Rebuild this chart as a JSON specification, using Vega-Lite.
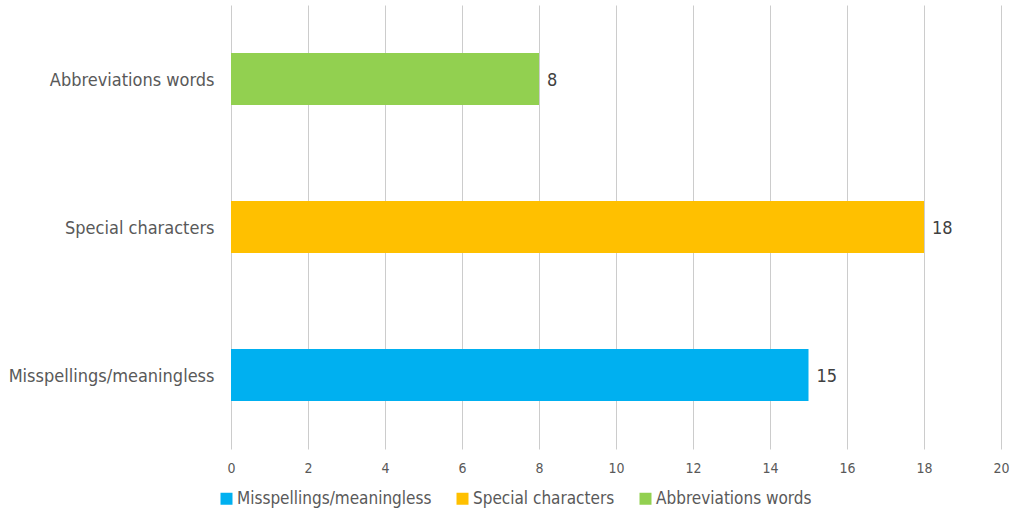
{
  "$schema": "https://vega.github.io/schema/vega-lite/v6.json",
  "autosize": {"type": "none"},
  "width": 770,
  "height": 444,
  "padding": {"left": 231, "top": 5, "right": 10, "bottom": 63},
  "background": "white",
  "config": {
    "view": {"stroke": null},
    "font": "DejaVu Sans Condensed"
  },
  "data": {
    "values": [
      {"category": "Misspellings/meaningless", "count": 15},
      {"category": "Special characters", "count": 18},
      {"category": "Abbreviations words", "count": 8}
    ]
  },
  "encoding": {
    "y": {
      "field": "category",
      "type": "nominal",
      "sort": ["Abbreviations words", "Special characters", "Misspellings/meaningless"],
      "scale": {"paddingInner": 0.65, "paddingOuter": 0.325},
      "axis": {
        "title": null,
        "domain": false,
        "ticks": false,
        "labelFontSize": 18,
        "labelColor": "#595959",
        "labelPadding": 17,
        "labelOffset": 2,
        "labelLimit": 300
      }
    },
    "x": {
      "field": "count",
      "type": "quantitative",
      "scale": {"domain": [0, 20]},
      "axis": {
        "title": null,
        "values": [0, 2, 4, 6, 8, 10, 12, 14, 16, 18, 20],
        "domain": false,
        "ticks": false,
        "grid": true,
        "gridColor": "#cccccc",
        "gridWidth": 1,
        "labelFlush": false,
        "labelFontSize": 14,
        "labelColor": "#595959",
        "labelPadding": 12
      }
    }
  },
  "layer": [
    {
      "mark": {"type": "bar"},
      "encoding": {
        "color": {
          "field": "category",
          "type": "nominal",
          "sort": ["Misspellings/meaningless", "Special characters", "Abbreviations words"],
          "scale": {
            "domain": ["Misspellings/meaningless", "Special characters", "Abbreviations words"],
            "range": ["#00B0F0", "#FFC000", "#92D050"]
          },
          "legend": {
            "title": null,
            "orient": "none",
            "legendX": -13,
            "legendY": 485,
            "direction": "horizontal",
            "symbolType": "square",
            "symbolSize": 144,
            "symbolStrokeWidth": 0,
            "labelFontSize": 17,
            "labelColor": "#595959",
            "labelLimit": 400,
            "columnPadding": 22,
            "labelOffset": 2
          }
        }
      }
    },
    {
      "mark": {"type": "text", "align": "left", "baseline": "middle", "dx": 8, "dy": 2, "fontSize": 18, "color": "#404040"},
      "encoding": {
        "text": {"field": "count", "type": "quantitative"}
      }
    }
  ]
}
